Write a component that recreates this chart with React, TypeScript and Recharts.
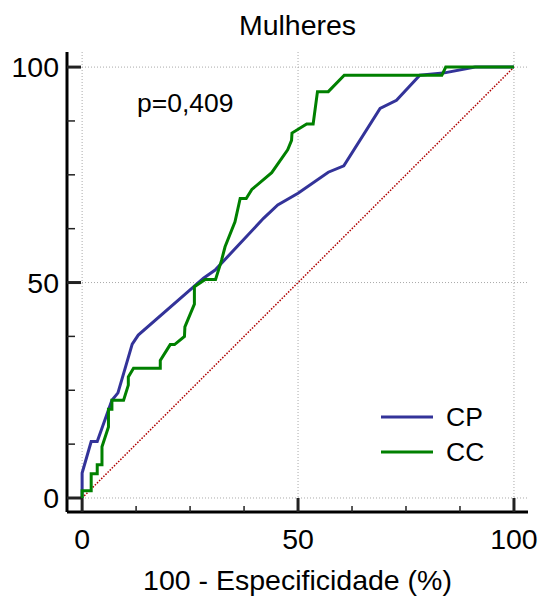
import { Customized, Line, LineChart, ReferenceLine, XAxis, YAxis } from 'recharts'

// CP curve (100 - especificidade, sensibilidade)
const cpFpr = [0, 0, 2.1, 3.5, 6.9, 8.3, 11.6, 13, 25.8, 28.1, 30.8, 42, 45.3, 50, 57, 60.6, 69, 72.8, 78.2, 83.6, 91, 100]
const cpTpr = [0, 5.8, 13.1, 13.1, 22.7, 24.4, 35.7, 37.8, 49, 51, 52.9, 64.9, 68, 70.7, 75.6, 77.1, 90.4, 92.3, 98.1, 98.6, 100, 100]

// CC curve
const ccFpr = [
  0, 0, 2.1, 2.1, 3.5, 3.5, 4.6, 4.6, 6.1, 6.1, 6.9, 6.9, 9.6, 10.7, 10.7, 11.9, 18.1, 18.1, 20.4, 21.4, 23.7, 23.8,
  26, 26, 28.5, 30.9, 32.3, 33.1, 35.4, 36.6, 38, 39.3, 43.9, 47.6, 48.5, 48.6, 52, 53.5, 54.5, 57, 60.7, 83.3, 84.2, 100,
]
const ccTpr = [
  0, 1.7, 1.7, 5.6, 5.6, 7.7, 7.7, 11.9, 16.5, 20.6, 20.6, 22.7, 22.7, 26.2, 28.1, 30.1, 30.1, 31.9, 35.6, 35.6, 37.5, 39.7,
  45, 49, 50.7, 50.7, 55.2, 58.3, 64.1, 69.5, 69.5, 71.6, 75.5, 80.8, 83, 84.7, 86.8, 86.8, 94.3, 94.3, 98.1, 98.1, 100, 100,
]

const refX = [0, 100]
const refY = [0, 100]

const ticks = [0, 12.5, 25, 37.5, 50, 62.5, 75, 87.5, 100]
const gridValues = [0, 50, 100]

const cpData = cpFpr.map((x, i) => ({ x, y: cpTpr[i] }))
const ccData = ccFpr.map((x, i) => ({ x, y: ccTpr[i] }))
const refData = refX.map((x, i) => ({ x, y: refY[i] }))

const FONT = '"Liberation Sans", Arial, sans-serif'
const FS = 28.5
const FS_SMALL = 26.5

const YTick = (props: any) => {
  const { x, y, payload } = props
  const major = payload.value % 50 === 0
  return (
    <g>
      <line x1={x + 8} x2={x + 8 + (major ? 14 : 8)} y1={y} y2={y} stroke='#222' strokeWidth={major ? 3 : 1.5} />
      {major && (
        <text x={x} y={y} dy='0.355em' textAnchor='end' fontSize={FS} fill='#000'>
          {payload.value}
        </text>
      )}
    </g>
  )
}

const XTick = (props: any) => {
  const { x, y, payload } = props
  const major = payload.value % 50 === 0
  return (
    <g>
      <line x1={x} x2={x} y1={y - 17} y2={y - 17 - (major ? 14 : 6)} stroke='#222' strokeWidth={major ? 3 : 1.5} />
      {major && (
        <text x={x} y={y} dy='0.71em' textAnchor='middle' fontSize={FS} fill='#000'>
          {payload.value}
        </text>
      )}
    </g>
  )
}

const Extras = () => (
  <g fontFamily={FONT} fill='#000'>
    <text x={297.5} y={25} dy='0.355em' textAnchor='middle' fontSize={FS}>
      Mulheres
    </text>
    <text x={137} y={103} dy='0.355em' fontSize={FS_SMALL}>
      p=0,409
    </text>
    <line x1={381} x2={433} y1={417} y2={417} stroke='#333399' strokeWidth={3} />
    <text x={446} y={417} dy='0.355em' fontSize={FS_SMALL}>
      CP
    </text>
    <line x1={381} x2={433} y1={452} y2={452} stroke='#008000' strokeWidth={3} />
    <text x={446} y={452} dy='0.355em' fontSize={FS_SMALL}>
      CC
    </text>
    <text x={297.5} y={580} dy='0.355em' textAnchor='middle' fontSize={FS}>
      100 - Especificidade (%)
    </text>
  </g>
)

export default function App() {
  return (
    <div style={{ position: 'absolute', left: 0, top: 0, background: '#fff' }}>
      <LineChart width={542} height={600} margin={{ top: 52, right: 14, bottom: 0, left: 0 }} style={{ fontFamily: FONT }}>
        {gridValues.map((v) => (
          <ReferenceLine key={'gx' + v} x={v} stroke='#aaa' strokeDasharray='1 2' />
        ))}
        {gridValues.map((v) => (
          <ReferenceLine key={'gy' + v} y={v} stroke='#aaa' strokeDasharray='1 2' />
        ))}
        <XAxis
          type='number'
          dataKey='x'
          domain={[-3.5, 103.25]}
          ticks={ticks}
          interval={0}
          height={88}
          tickSize={0}
          tickMargin={17}
          tick={<XTick />}
          axisLine={{ stroke: '#000', strokeWidth: 3 }}
        />
        <YAxis
          type='number'
          dataKey='y'
          domain={[-3.25, 103.5]}
          ticks={ticks}
          interval={0}
          width={67}
          tickSize={0}
          tickMargin={8}
          tick={<YTick />}
          axisLine={{ stroke: '#000', strokeWidth: 3 }}
        />
        <Line data={refData} dataKey='y' type='linear' stroke='#b00000' strokeWidth={1.5} strokeDasharray='1.5 1.5' dot={false} isAnimationActive={false} />
        <Line data={cpData} dataKey='y' type='linear' stroke='#333399' strokeWidth={3} dot={false} isAnimationActive={false} />
        <Line data={ccData} dataKey='y' type='linear' stroke='#008000' strokeWidth={3} dot={false} isAnimationActive={false} />
        <Customized component={Extras} />
      </LineChart>
    </div>
  )
}
